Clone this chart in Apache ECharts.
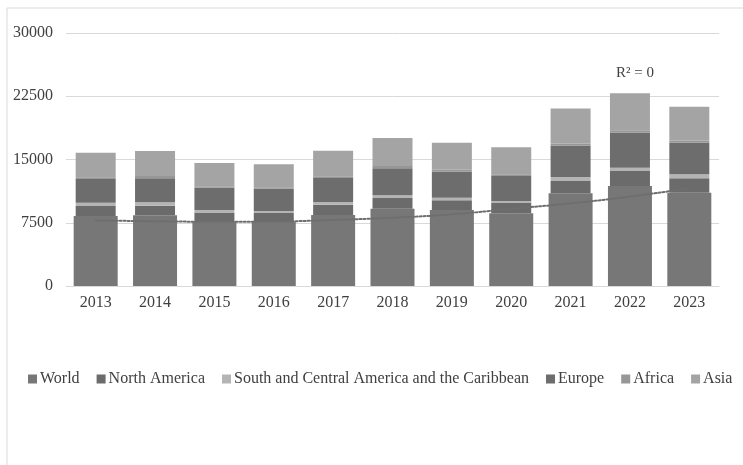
<!DOCTYPE html>
<html>
<head>
<meta charset="utf-8">
<script src="https://cdn.jsdelivr.net/npm/echarts@6/dist/echarts.min.js"></script>
<style>
  html, body { margin: 0; padding: 0; background: #fff; }
  #main { width: 743px; height: 465px; }
</style>
</head>
<body>
<div id="main"></div>
<script>
var years = ['2013', '2014', '2015', '2016', '2017', '2018', '2019', '2020', '2021', '2022', '2023'];

var world        = [8300, 8380, 7620, 7590, 8420, 9170, 9010, 8620, 10990, 11860, 11060];
var northAmerica = [1190, 1140, 1110, 1070, 1220, 1270, 1150, 1220, 1460, 1780, 1710];
var southCentral = [390, 400, 280, 240, 320, 320, 310, 240, 470, 390, 470];
var europe       = [2810, 2850, 2640, 2640, 2850, 3200, 3080, 2960, 3710, 4150, 3750];
var africa       = [200, 260, 180, 170, 200, 280, 220, 210, 260, 300, 240];
var asia         = [2920, 2980, 2750, 2720, 3040, 3320, 3220, 3190, 4170, 4370, 4030];

// polynomial trendline
var trend = [7780, 7680, 7620, 7650, 7830, 8100, 8500, 9150, 9800, 10600, 11590];

var yTicks = { min: 0, max: 30000, interval: 7500 };

var font = '"Liberation Serif", "Times New Roman", serif';
var textColor = '#404040';

var myChart = echarts.init(document.getElementById('main'));

function stackSeries(name, data, color) {
    return {
        name: name,
        type: 'bar',
        stack: 'regions',
        xAxisIndex: 1,
        barWidth: 40,
        data: data,
        itemStyle: { color: color },
        z: 3
    };
}

var option = {
    animation: false,
    backgroundColor: '#fff',
    textStyle: { fontFamily: font },
    grid: { left: 66, right: 24, top: 33, bottom: 179 },
    legend: {
        data: ['World', 'North America', 'South and Central America and the Caribbean', 'Europe', 'Africa', 'Asia'],
        left: 28,
        top: 371,
        padding: 0,
        icon: 'rect',
        itemWidth: 9,
        itemHeight: 9,
        itemGap: 17,
        textStyle: { fontFamily: font, fontSize: 16, color: textColor, padding: [0, 0, 0, -2] }
    },
    xAxis: [{
        type: 'category',
        data: years,
        axisLine: { lineStyle: { color: '#d9d9d9' } },
        axisTick: { show: false },
        axisLabel: { fontFamily: font, fontSize: 16, color: textColor, margin: 9 }
    }, {
        type: 'category',
        data: years,
        show: false
    }],
    yAxis: {
        type: 'value',
        min: yTicks.min,
        max: yTicks.max,
        interval: yTicks.interval,
        axisLine: { show: false },
        axisTick: { show: false },
        axisLabel: {
            fontFamily: font, fontSize: 16, color: textColor, margin: 13,
            formatter: function (v) { return String(v); }
        },
        splitLine: { lineStyle: { color: '#d9d9d9', width: 1 } }
    },
    series: [
        {
            name: 'World',
            type: 'bar',
            xAxisIndex: 0,
            barWidth: 44,
            data: world,
            itemStyle: { color: '#777777' },
            z: 2
        },
        {
            name: 'base',
            type: 'bar',
            stack: 'regions',
            xAxisIndex: 1,
            barWidth: 40,
            data: world,
            silent: true,
            itemStyle: { color: 'rgba(0,0,0,0)' },
            z: 3
        },
        stackSeries('North America', northAmerica, '#6b6b6b'),
        stackSeries('South and Central America and the Caribbean', southCentral, '#b4b4b4'),
        stackSeries('Europe', europe, '#6d6d6d'),
        stackSeries('Africa', africa, '#979797'),
        stackSeries('Asia', asia, '#a4a4a4'),
        {
            name: 'trend',
            type: 'line',
            xAxisIndex: 0,
            data: trend,
            smooth: true,
            symbol: 'none',
            silent: true,
            lineStyle: { color: '#6e6e6e', width: 2, type: [2, 2], cap: 'round' },
            z: 5
        }
    ],
    graphic: [
        {
            type: 'rect',
            shape: { x: 7, y: 8, width: 760, height: 480 },
            style: { fill: 'none', stroke: '#d9d9d9', lineWidth: 1 },
            silent: true
        },
        {
            type: 'text',
            left: 616,
            top: 66,
            style: { text: 'R² = 0', font: '15px ' + font, fill: textColor }
        }
    ]
};

myChart.setOption(option);
</script>
</body>
</html>
